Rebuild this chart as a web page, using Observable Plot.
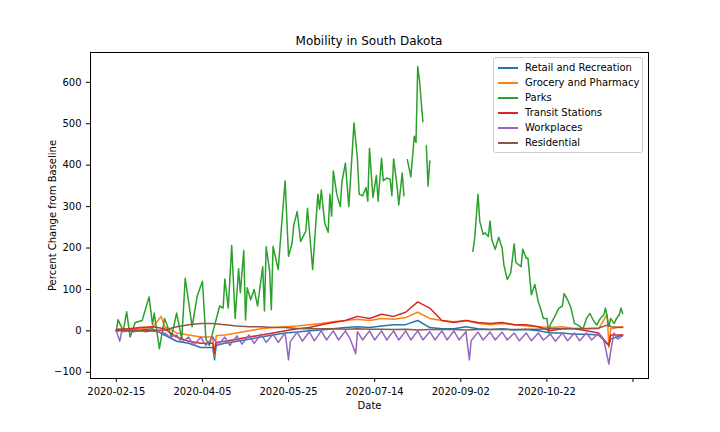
<!DOCTYPE html>
<html>
<head>
<meta charset="utf-8">
<script src="https://cdn.jsdelivr.net/npm/d3@7"></script>
<script src="https://cdn.jsdelivr.net/npm/@observablehq/plot@0.6"></script>
<style>
  body { margin: 0; background: #fff; font-family: "DejaVu Sans", sans-serif; }
  #wrap { position: relative; width: 720px; height: 432px; }
  #title { position: absolute; top: 34px; left: 90px; width: 558px; text-align: center; font-size: 12px; }
  #legend { position: absolute; top: 57px; left: 493px; width: 150px; border: 1px solid #ccc; border-radius: 3px;
            background: rgba(255,255,255,0.85); font-size: 10px; padding: 2px 0 2px 4px; box-sizing: border-box; }
  #legend div { height: 15px; line-height: 15px; display: flex; align-items: center; }
  #legend span.sw { display: inline-block; width: 20px; height: 2px; margin-right: 7px; }
</style>
</head>
<body>
<div id="wrap">
  <div id="title">Mobility in South Dakota</div>
  <div id="chart"></div>
  <div id="legend"></div>
</div>
<script>
// Days counted from 2020-02-15; each series is a list of [day, percent change].
const startDate = new Date(2020, 1, 15);
const tickDates = ["2020-02-15", "2020-04-05", "2020-05-25", "2020-07-14", "2020-09-02", "2020-10-22", "2020-12-11"];
const seriesNames = ["Retail and Recreation", "Grocery and Pharmacy", "Parks", "Transit Stations", "Workplaces", "Residential"];
const seriesColors = ["#1f77b4", "#ff7f0e", "#2ca02c", "#d62728", "#9467bd", "#8c564b"];

const retail = [[0,0],[7,3],[14,2],[21,5],[28,-10],[35,-25],[42,-30],[49,-40],[56,-40],[57,-70],[58,-35],[63,-30],[70,-25],[77,-20],[84,-15],[91,-10],[98,-5],[105,-3],[112,0],[119,2],[126,5],[133,8],[140,10],[147,8],[154,12],[161,15],[168,15],[175,25],[182,8],[189,5],[196,5],[203,10],[210,5],[217,3],[224,5],[231,2],[238,3],[245,0],[252,-5],[259,-5],[266,-8],[273,-8],[280,-10],[286,-35],[287,-20],[294,-10]];
const grocery = [[0,3],[7,5],[14,5],[21,8],[26,35],[28,10],[35,-5],[42,-10],[49,-15],[56,-15],[57,-60],[58,-12],[63,-10],[70,-5],[77,0],[84,5],[91,8],[98,10],[105,12],[112,15],[119,18],[126,22],[133,25],[140,28],[147,25],[154,30],[161,28],[168,32],[175,45],[182,30],[189,25],[196,22],[203,25],[210,18],[217,15],[224,18],[231,15],[238,12],[245,10],[252,8],[259,10],[266,5],[273,5],[280,5],[285,40],[286,-40],[287,5],[294,10]];
const parks = [[0,0],[1,27],[4,0],[6,46],[8,-15],[11,20],[15,25],[19,82],[21,15],[22,43],[25,-43],[28,30],[32,-15],[35,43],[38,-20],[40,127],[44,10],[47,85],[50,120],[52,-20],[54,-35],[60,60],[62,55],[63,125],[65,55],[67,206],[69,30],[71,150],[72,92],[74,194],[75,26],[76,104],[78,75],[80,100],[82,60],[85,155],[86,48],[87,203],[89,145],[90,51],[91,204],[94,148],[96,257],[98,362],[100,180],[102,211],[103,255],[105,288],[107,216],[110,240],[111,296],[114,148],[117,330],[118,294],[119,340],[121,260],[123,238],[124,330],[125,277],[126,386],[128,330],[130,300],[131,360],[133,405],[135,300],[138,502],[140,415],[141,330],[143,326],[145,346],[146,313],[147,441],[149,322],[151,375],[152,313],[154,417],[155,362],[157,369],[159,366],[160,326],[161,415],[163,350],[164,304],[166,381],[167,326],[168,null],[169,413],[171,372],[173,470],[174,455],[175,638],[176,605],[178,505],[179,null],[180,447],[181,350],[182,410],[195,null],[207,192],[208,220],[210,330],[211,265],[213,233],[214,237],[216,228],[217,265],[218,220],[220,197],[222,226],[224,200],[225,160],[227,124],[229,140],[231,210],[232,165],[235,155],[236,197],[238,175],[239,175],[241,87],[243,112],[245,70],[246,58],[248,30],[250,30],[251,-5],[252,15],[254,30],[257,55],[259,60],[260,90],[262,75],[264,55],[266,18],[268,14],[271,5],[273,30],[275,42],[277,25],[279,14],[281,30],[283,38],[284,55],[286,10],[287,30],[289,18],[291,34],[292,38],[293,55],[294,42]];
const transit = [[0,3],[7,5],[14,8],[21,10],[28,5],[35,-15],[42,-25],[49,-30],[56,-30],[57,-55],[58,-28],[63,-25],[70,-20],[77,-15],[84,-10],[91,-5],[98,0],[105,5],[112,8],[119,15],[126,20],[133,25],[140,35],[147,30],[154,40],[161,35],[168,45],[175,70],[182,55],[189,25],[196,20],[203,25],[210,20],[217,18],[224,20],[231,15],[238,15],[245,10],[252,0],[259,5],[266,5],[273,0],[280,-5],[286,-35],[287,-10],[294,-10]];
const workplaces = [[0,0],[2,-25],[3,-3],[7,0],[10,-2],[14,0],[17,-2],[21,0],[24,-3],[28,-5],[31,-15],[35,-10],[38,-28],[42,-15],[45,-35],[49,-15],[52,-35],[56,-15],[59,-35],[63,-15],[66,-35],[70,-12],[73,-32],[77,-10],[80,-30],[84,-8],[87,-28],[91,-8],[94,-28],[98,-5],[100,-70],[101,-26],[105,-3],[108,-25],[112,-2],[115,-24],[119,0],[122,-22],[126,0],[129,-22],[133,0],[136,-22],[139,-55],[140,-2],[143,-22],[147,0],[150,-22],[154,0],[157,-22],[161,0],[164,-22],[168,0],[171,-22],[175,0],[178,-22],[182,-2],[185,-22],[189,0],[192,-22],[196,0],[199,-22],[203,-2],[205,-70],[206,-24],[210,-3],[213,-22],[217,-3],[220,-22],[224,-3],[227,-22],[231,-5],[234,-24],[238,-5],[241,-24],[245,-5],[248,-22],[252,-8],[255,-25],[259,-5],[262,-24],[266,-5],[269,-24],[273,-5],[276,-22],[280,-5],[283,-22],[286,-80],[287,-50],[289,-5],[291,-20],[294,-12]];
const residential = [[0,0],[7,0],[14,0],[21,0],[28,2],[35,10],[42,15],[49,18],[56,18],[63,15],[70,12],[77,10],[84,10],[91,8],[98,8],[105,6],[112,5],[119,5],[126,5],[133,4],[140,5],[147,4],[154,4],[161,3],[168,4],[175,2],[182,3],[189,3],[196,3],[203,2],[210,3],[217,3],[224,3],[231,3],[238,4],[245,4],[252,5],[259,5],[266,6],[273,6],[280,7],[286,15],[287,10],[294,8]];

const allSeries = [retail, grocery, parks, transit, workplaces, residential];

const toDate = (d) => new Date(startDate.getFullYear(), startDate.getMonth(), startDate.getDate() + d);
const rowsFor = (pairs) => pairs.map(([d, v]) => ({ date: toDate(d), value: v }));
const ticks = tickDates.map((s) => { const [y, m, d] = s.split("-").map(Number); return new Date(y, m - 1, d); });
const lastTick = ticks[ticks.length - 1];

const fig = Plot.plot({
  width: 720,
  height: 432,
  marginLeft: 90,
  marginRight: 72,
  marginTop: 52,
  marginBottom: 54,
  style: { fontFamily: "DejaVu Sans", fontSize: "10px", color: "#000" },
  x: {
    type: "time",
    domain: [new Date(2020, 0, 31), new Date(2020, 11, 20)],
    ticks,
    tickFormat: (d) => (+d === +lastTick ? "" : d3.timeFormat("%Y-%m-%d")(d)),
    label: "Date",
    labelAnchor: "center",
    labelArrow: "none",
    labelOffset: 30,
    tickSize: 4
  },
  y: {
    domain: [-115, 672],
    ticks: d3.range(-100, 601, 100),
    label: "Percent Change from Baseline",
    labelAnchor: "center",
    labelArrow: "none",
    labelOffset: 42,
    tickSize: 4
  },
  marks: [
    Plot.frame({ stroke: "#000" }),
    ...allSeries.map((s, i) =>
      Plot.lineY(rowsFor(s), { x: "date", y: "value", stroke: seriesColors[i], strokeWidth: 1.5 })
    )
  ]
});
document.getElementById("chart").append(fig);

const legend = document.getElementById("legend");
seriesNames.forEach((name, i) => {
  const row = document.createElement("div");
  row.innerHTML = `<span class="sw" style="background:${seriesColors[i]}"></span>${name}`;
  legend.append(row);
});
</script>
</body>
</html>
